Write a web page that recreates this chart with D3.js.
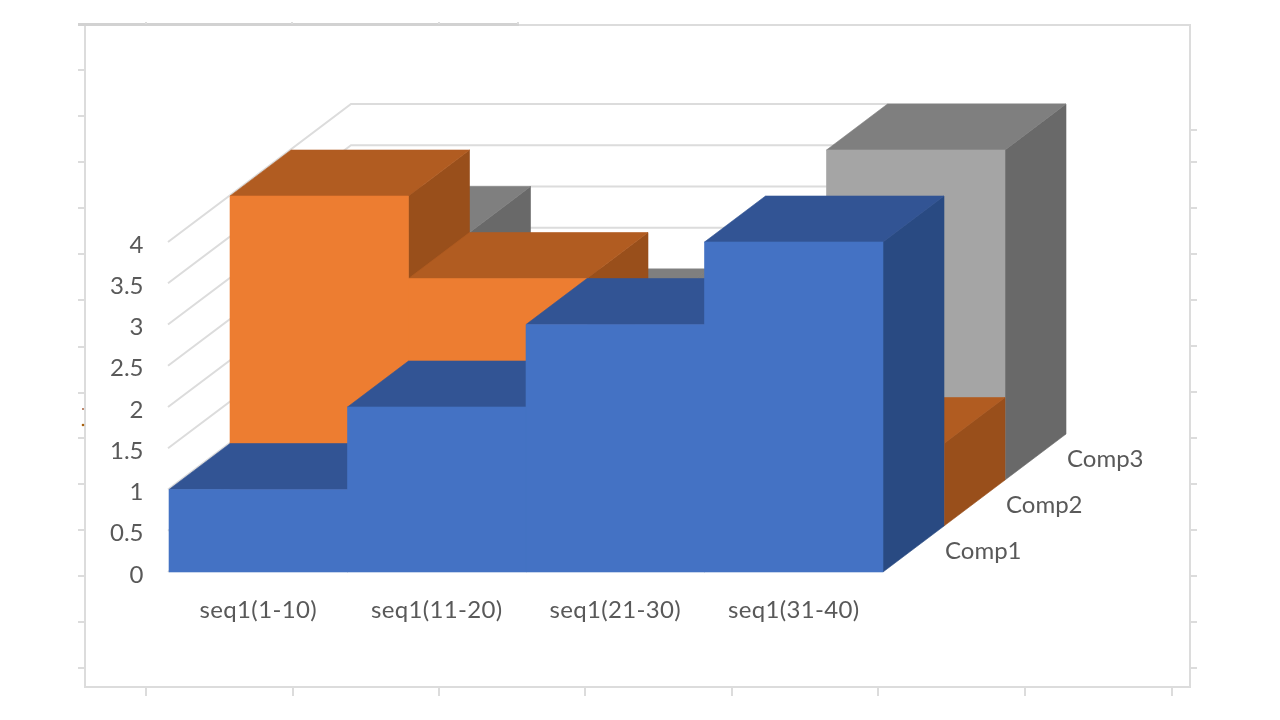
<!DOCTYPE html>
<html>
<head>
<meta charset="utf-8">
<script src="https://cdn.jsdelivr.net/npm/d3@7"></script>
<style>
    html, body { margin: 0; background: #fff; }
    svg { display: block; filter: blur(0.6px); }
    .axis text { font-family: Lato, sans-serif; font-size: 24px; fill: #595959; }
    .cat-axis text { letter-spacing: 0.35px; }
</style>
</head>
<body>
<script>
const categories = ['seq1(1-10)', 'seq1(11-20)', 'seq1(21-30)', 'seq1(31-40)'];
const seriesNames = ['Comp1', 'Comp2', 'Comp3'];
const comp1 = [1, 2, 3, 4];
const comp2 = [4, 3, 2, 1];
const comp3 = [3, 2, 2, 4];
const yTicks = [0, 0.5, 1, 1.5, 2, 2.5, 3, 3.5, 4];

const seriesValues = [comp1, comp2, comp3];
const frontColors = ['#4472c4', '#ed7d31', '#a5a5a5'];
const topColors = ['#325494', '#b15c21', '#7f7f7f'];
const sideColors = ['#294a82', '#994f1b', '#696969'];

const width = 1280;
const height = 720;
const gridColor = '#dcdcdc';

const svg = d3.select('body')
    .append('svg')
    .attr('width', width)
    .attr('height', height);

const xScale = d3.scaleBand()
    .domain(categories)
    .range([169, 883]);

const yScale = d3.scaleLinear()
    .domain([0, 4])
    .range([572, 242]);

// depth axis: each series is one step back and up
const depthX = d3.scaleLinear().domain([0, 3]).range([0, 183]);
const depthY = d3.scaleLinear().domain([0, 3]).range([0, -138]);

const project = (x, z, v) => [x + depthX(z), yScale(v) + depthY(z)];
const poly = pts => pts.map(p => p.join(',')).join(' ');

// frame of the pasted chart
const frame = svg.append('g').attr('fill', 'none').attr('stroke', gridColor);

frame.append('rect')
    .attr('x', 85)
    .attr('y', 25)
    .attr('width', 1105)
    .attr('height', 662)
    .attr('stroke-width', 2);

frame.append('line')
    .attr('x1', 78).attr('x2', 519)
    .attr('y1', 24.5).attr('y2', 24.5)
    .attr('stroke', '#d2d2d2')
    .attr('stroke-width', 3);

[146, 293, 439, 585, 732, 878, 1025, 1172].forEach(x => {
    frame.append('line')
        .attr('x1', x).attr('x2', x)
        .attr('y1', 687).attr('y2', 696)
        .attr('stroke-width', 2);
});

[146, 292, 439, 518].forEach(x => {
    frame.append('line')
        .attr('x1', x).attr('x2', x)
        .attr('y1', 22).attr('y2', 24)
        .attr('stroke-width', 2);
});

[70, 116, 162, 208, 254, 300, 347, 393, 438, 484, 530, 576, 622, 668].forEach(y => {
    frame.append('line')
        .attr('x1', 78).attr('x2', 85)
        .attr('y1', y).attr('y2', y)
        .attr('stroke-width', 2);
});

[130, 162, 208, 254, 300, 346, 392, 438, 484, 530, 576, 622, 668].forEach(y => {
    frame.append('line')
        .attr('x1', 1190).attr('x2', 1197)
        .attr('y1', y).attr('y2', y)
        .attr('stroke-width', 2);
});

svg.append('circle').attr('cx', 83).attr('cy', 409).attr('r', 0.9).attr('fill', '#a0522d');
svg.append('circle').attr('cx', 83).attr('cy', 425).attr('r', 1.3).attr('fill', '#a8620f');

// side wall and back wall gridlines
const xLeft = xScale.range()[0] - 1;
const xRight = xScale.range()[1];

const grid = svg.append('g')
    .attr('fill', 'none')
    .attr('stroke', gridColor)
    .attr('stroke-width', 2);

grid.selectAll('polyline')
    .data(yTicks)
    .enter()
    .append('polyline')
    .attr('points', d => poly([
        project(xLeft, 0, d),
        project(xLeft, 3, d),
        project(xRight, 3, d)
    ]));

// columns: back series first, left to right inside a series
const bars = svg.append('g').attr('stroke-width', 0.6).attr('stroke-linejoin', 'round');

const face = (color, pts) => bars.append('polygon')
    .attr('fill', color)
    .attr('stroke', color)
    .attr('points', poly(pts));

d3.range(seriesNames.length - 1, -1, -1).forEach(s => {
    const fronts = d3.path();

    categories.forEach((cat, i) => {
        const x0 = xScale(cat);
        const x1 = x0 + xScale.bandwidth();
        const v = seriesValues[s][i];

        face(sideColors[s], [project(x1, s, 0), project(x1, s + 1, 0), project(x1, s + 1, v), project(x1, s, v)]);
        face(topColors[s], [project(x0, s, v), project(x1, s, v), project(x1, s + 1, v), project(x0, s + 1, v)]);

        fronts.moveTo(...project(x0, s, 0));
        fronts.lineTo(...project(x1, s, 0));
        fronts.lineTo(...project(x1, s, v));
        fronts.lineTo(...project(x0, s, v));
        fronts.closePath();
    });

    // one path per series so neighbouring fronts leave no seam
    bars.append('path')
        .attr('fill', frontColors[s])
        .attr('stroke', frontColors[s])
        .attr('d', fronts.toString());
});

// axes
const yAxis = d3.axisLeft(yScale)
    .tickValues(yTicks)
    .tickFormat(d3.format('~g'))
    .tickSize(0)
    .tickPadding(0);

svg.append('g')
    .attr('class', 'axis')
    .attr('transform', 'translate(143.5, 2.5)')
    .call(yAxis)
    .call(g => g.select('.domain').remove());

const xAxis = d3.axisBottom(xScale)
    .tickSize(0)
    .tickPadding(0);

svg.append('g')
    .attr('class', 'axis cat-axis')
    .attr('transform', 'translate(0, 601)')
    .call(xAxis)
    .call(g => g.select('.domain').remove());

svg.append('g')
    .attr('class', 'axis')
    .selectAll('text')
    .data(seriesNames)
    .enter()
    .append('text')
    .text(d => d)
    .attr('x', (d, i) => xRight + depthX(i + 1) + 1)
    .attr('y', (d, i) => yScale(0) + depthY(i) - 13);
</script>
</body>
</html>
